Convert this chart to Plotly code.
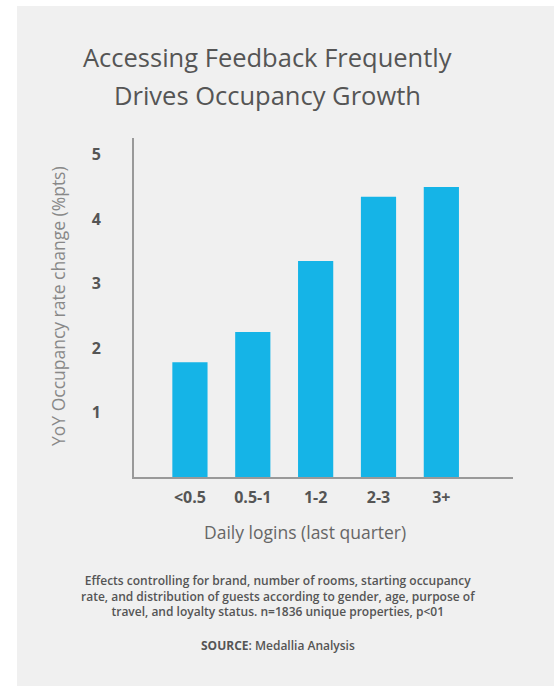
import plotly.graph_objects as go

categories = ["<0.5", "0.5-1", "1-2", "2-3", "3+"]
values = [1.78, 2.25, 3.35, 4.35, 4.50]
y_ticks = [1, 2, 3, 4, 5]

title_lines = ["Accessing Feedback Frequently", "Drives Occupancy Growth"]
x_title = "Daily logins (last quarter)"
y_title = "YoY Occupancy rate change (%pts)"
foot_lines = [
    "Effects controlling for brand, number of rooms, starting occupancy",
    "rate, and distribution of guests according to gender, age, purpose of",
    "travel, and loyalty status. n=1836 unique properties, p<01",
]
source_text = "<b>SOURCE</b>: Medallia Analysis"

W, H = 557, 687
ML, MR, MT, MB = 134, 44, 138, 210
pw, ph = W - ML - MR, H - MT - MB

def px_x(x):
    return (x - ML) / pw

def px_y(y):
    return (H - MB - y) / ph

FONT = "Open Sans"
BAR = "#15b4e7"

fig = go.Figure()
fig.add_trace(go.Bar(
    x=list(range(len(categories))), y=values,
    marker=dict(color=BAR, line=dict(width=0)),
    width=0.56,
))

fig.add_shape(type="rect", xref="paper", yref="paper",
              x0=px_x(17), x1=px_x(554), y0=px_y(686), y1=px_y(6),
              fillcolor="#f0f0f0", line=dict(width=0), layer="below")

ann = []
for i, t in enumerate(title_lines):
    ann.append(dict(text=t, x=px_x(267), y=px_y(57 + 38 * i), xref="paper", yref="paper",
                    showarrow=False, xanchor="center", yanchor="middle",
                    font=dict(family=FONT, size=25.5, color="#555555")))
ann.append(dict(text=x_title, x=px_x(305), y=px_y(532), xref="paper", yref="paper",
                showarrow=False, xanchor="center", yanchor="middle",
                font=dict(family=FONT, size=17.5, color="#666666")))
ann.append(dict(text=y_title, x=px_x(58), y=px_y(306), xref="paper", yref="paper",
                showarrow=False, xanchor="center", yanchor="middle", textangle=-90,
                font=dict(family=FONT, size=17.5, color="#888888")))
ann.append(dict(text="<br>".join(foot_lines), x=px_x(278), y=px_y(596), xref="paper", yref="paper",
                showarrow=False, xanchor="center", yanchor="middle", align="center",
                font=dict(family=FONT, size=12, color="#555555", weight=600)))
ann.append(dict(text=source_text, x=px_x(278), y=px_y(645), xref="paper", yref="paper",
                showarrow=False, xanchor="center", yanchor="middle",
                font=dict(family=FONT, size=12, color="#555555", weight=600)))

fig.update_layout(
    width=W, height=H,
    margin=dict(l=ML, r=MR, t=MT, b=MB, pad=0),
    paper_bgcolor="white", plot_bgcolor="rgba(0,0,0,0)",
    showlegend=False,
    annotations=ann,
    xaxis=dict(range=[-0.89, 5.14], tickvals=list(range(len(categories))), ticktext=categories,
               showgrid=False, zeroline=False, showline=True, linecolor="#999999", linewidth=2,
               ticks="", ticklabelstandoff=5,
               tickfont=dict(family=FONT, size=16, color="#555555", weight="bold")),
    yaxis=dict(range=[0, 5.26], tickvals=y_ticks, showgrid=False, zeroline=False,
               showline=True, linecolor="#999999", linewidth=2, ticks="", ticklabelstandoff=28,
               tickfont=dict(family=FONT, size=16, color="#555555", weight="bold")),
)

fig.write_html("out.html")
